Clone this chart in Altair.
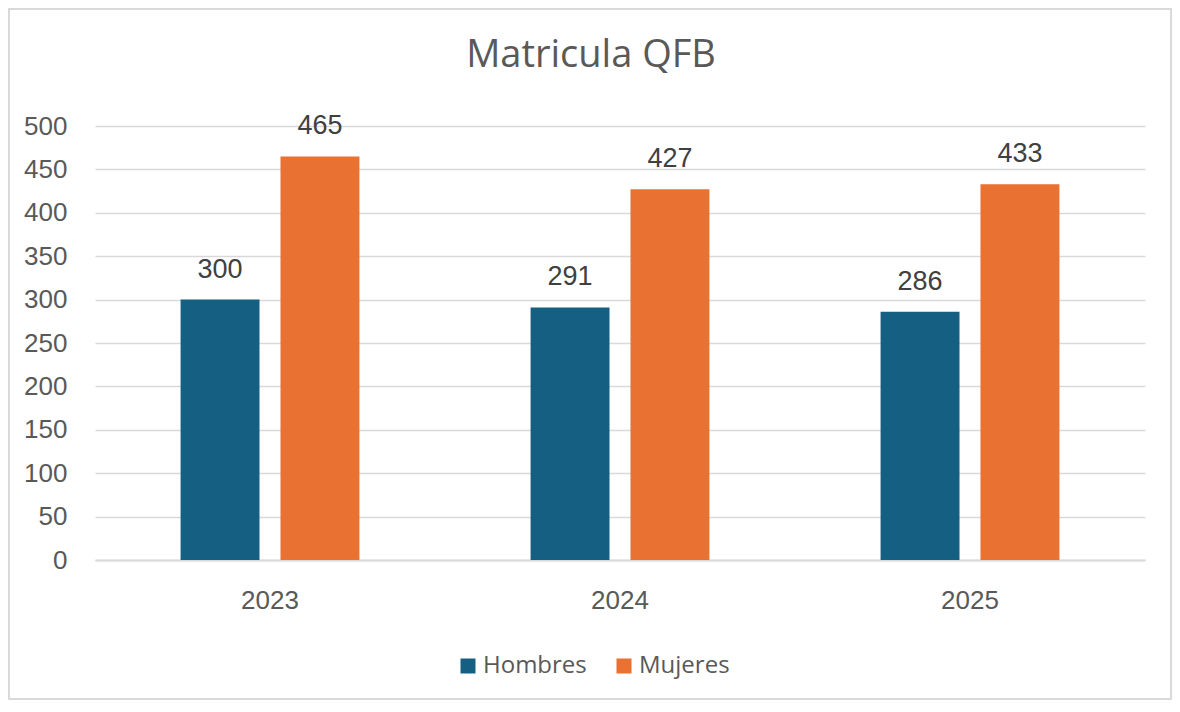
import altair as alt
import pandas as pd

years = ["2023", "2024", "2025"]
hombres = [300, 291, 286]
mujeres = [465, 427, 433]
series = ["Hombres", "Mujeres"]
colors = ["#156082", "#E97132"]
title_text = "Matricula QFB"

rows = []
for i, y in enumerate(years):
    rows.append({"year": y, "serie": "Hombres", "value": hombres[i]})
    rows.append({"year": y, "serie": "Mujeres", "value": mujeres[i]})
df = pd.DataFrame(rows)

W, H = 1050, 434
PL, PT, PR, PB = 87, 118, 27, 140

x = alt.X("year:N", title=None,
          scale=alt.Scale(paddingInner=0.489, paddingOuter=0.2445),
          axis=alt.Axis(labelAngle=0, labelFont="Liberation Sans", labelFontSize=26,
                        labelColor="#595959", labelPadding=27, ticks=False,
                        domainColor="#d9d9d9", domainWidth=2, grid=False))
xo = alt.XOffset("serie:N", scale=alt.Scale(paddingInner=0.21, paddingOuter=0))
y = alt.Y("value:Q", title=None,
          scale=alt.Scale(domain=[0, 500]),
          axis=alt.Axis(values=list(range(0, 501, 50)), labelFont="Liberation Sans",
                        labelFontSize=26, labelColor="#595959", labelPadding=28,
                        ticks=False, domain=False, gridColor="#d9d9d9", gridWidth=1.5))

base = alt.Chart(df)
one = pd.DataFrame({"t": [title_text]})

border = alt.Chart(one).mark_rect(
    fillOpacity=0, stroke="#d9d9d9", strokeWidth=2
).encode(
    x=alt.value(-PL + 1), x2=alt.value(W + PR - 1),
    y=alt.value(-PT + 1), y2=alt.value(H + PB - 1)
)

title = alt.Chart(one).mark_text(
    font="Open Sans", fontSize=38, color="#595959", baseline="alphabetic", align="center"
).encode(x=alt.value(W / 2 - 29), y=alt.value(-59), text="t:N")

bars = base.mark_bar().encode(
    x=x, xOffset=xo, y=y,
    color=alt.Color("serie:N", title=None,
                    scale=alt.Scale(domain=series, range=colors),
                    legend=alt.Legend(orient="none", legendX=361, legendY=528,
                                      direction="horizontal", symbolType="square",
                                      symbolSize=225, symbolStrokeWidth=0,
                                      labelFont="Open Sans", labelFontSize=24,
                                      labelColor="#595959", columnPadding=25,
                                      symbolOffset=0, labelOffset=3))
)

labels = base.mark_text(baseline="alphabetic", dy=-22, font="Liberation Sans",
                        fontSize=27, color="#404040").encode(
    x=x, xOffset=xo, y=alt.Y("value:Q"), text="value:Q"
)

chart = alt.layer(bars, labels, title, border).properties(
    width=W, height=H,
    autosize=alt.AutoSizeParams(type="none"),
    padding={"left": PL, "top": PT, "right": PR, "bottom": PB},
).configure(background="white", view=alt.ViewConfig(stroke=None))

chart.save("out.html", embed_options={"renderer": "svg", "actions": False})
